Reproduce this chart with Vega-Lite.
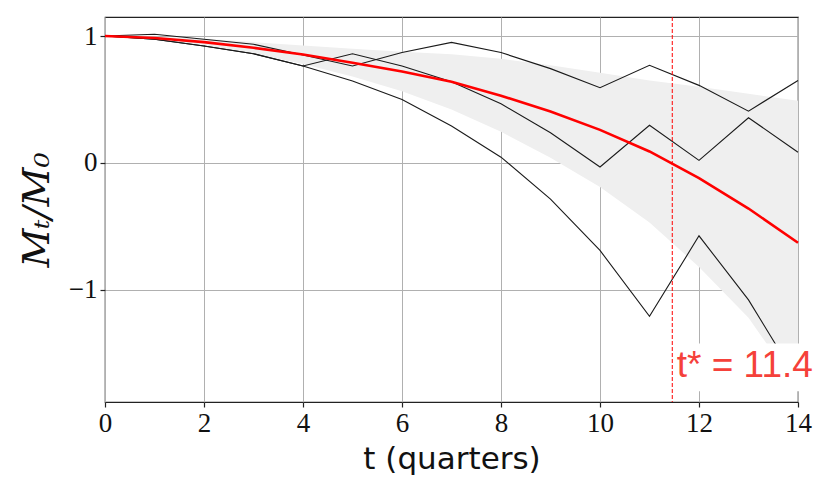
{
  "$schema": "https://vega.github.io/schema/vega-lite/v6.json",
  "width": 693,
  "height": 385,
  "autosize": {"type": "none"},
  "padding": {"left": 105, "top": 17, "right": 32, "bottom": 96},
  "background": "white",
  "config": {
    "view": {"stroke": "#222222", "strokeWidth": 1.2},
    "axis": {
      "grid": true,
      "gridColor": "#b0b0b0",
      "gridWidth": 1,
      "domain": false,
      "tickColor": "#222222",
      "tickSize": 5,
      "tickWidth": 1.2,
      "labelFont": "Liberation Serif",
      "labelFontSize": 27,
      "labelColor": "#111111",
      "labelPadding": 3,
      "labelFlush": false,
      "labelOverlap": false,
      "titleColor": "#111111",
      "titleFontWeight": "normal"
    }
  },
  "datasets": {
    "paths": [
      {"t": 0, "v": 1.0, "path": "P"}, {"t": 1, "v": 1.014, "path": "P"}, {"t": 2, "v": 0.975, "path": "P"}, {"t": 3, "v": 0.935, "path": "P"}, {"t": 4, "v": 0.85, "path": "P"}, {"t": 5, "v": 0.764, "path": "P"}, {"t": 6, "v": 0.87, "path": "P"}, {"t": 7, "v": 0.95, "path": "P"}, {"t": 8, "v": 0.87, "path": "P"}, {"t": 9, "v": 0.743, "path": "P"}, {"t": 10, "v": 0.593, "path": "P"}, {"t": 11, "v": 0.769, "path": "P"}, {"t": 12, "v": 0.611, "path": "P"}, {"t": 13, "v": 0.408, "path": "P"}, {"t": 14, "v": 0.65, "path": "P"},
      {"t": 0, "v": 1.0, "path": "Q"}, {"t": 1, "v": 0.975, "path": "Q"}, {"t": 2, "v": 0.922, "path": "Q"}, {"t": 3, "v": 0.86, "path": "Q"}, {"t": 4, "v": 0.764, "path": "Q"}, {"t": 5, "v": 0.86, "path": "Q"}, {"t": 6, "v": 0.764, "path": "Q"}, {"t": 7, "v": 0.64, "path": "Q"}, {"t": 8, "v": 0.466, "path": "Q"}, {"t": 9, "v": 0.237, "path": "Q"}, {"t": 10, "v": -0.032, "path": "Q"}, {"t": 11, "v": 0.297, "path": "Q"}, {"t": 12, "v": 0.02, "path": "Q"}, {"t": 13, "v": 0.356, "path": "Q"}, {"t": 14, "v": 0.084, "path": "Q"},
      {"t": 0, "v": 1.0, "path": "R"}, {"t": 1, "v": 0.975, "path": "R"}, {"t": 2, "v": 0.922, "path": "R"}, {"t": 3, "v": 0.86, "path": "R"}, {"t": 4, "v": 0.764, "path": "R"}, {"t": 5, "v": 0.645, "path": "R"}, {"t": 6, "v": 0.5, "path": "R"}, {"t": 7, "v": 0.29, "path": "R"}, {"t": 8, "v": 0.045, "path": "R"}, {"t": 9, "v": -0.285, "path": "R"}, {"t": 10, "v": -0.69, "path": "R"}, {"t": 11, "v": -1.21, "path": "R"}, {"t": 12, "v": -0.575, "path": "R"}, {"t": 13, "v": -1.08, "path": "R"}, {"t": 14, "v": -1.72, "path": "R"}
    ],
    "stats": [
      {"t": 0, "mean": 1.0, "lo": 1.0, "hi": 1.0},
      {"t": 1, "mean": 0.985, "lo": 0.975, "hi": 0.995},
      {"t": 2, "mean": 0.952, "lo": 0.93, "hi": 0.978},
      {"t": 3, "mean": 0.907, "lo": 0.862, "hi": 0.952},
      {"t": 4, "mean": 0.855, "lo": 0.78, "hi": 0.926},
      {"t": 5, "mean": 0.79, "lo": 0.68, "hi": 0.9},
      {"t": 6, "mean": 0.72, "lo": 0.565, "hi": 0.876},
      {"t": 7, "mean": 0.64, "lo": 0.42, "hi": 0.857},
      {"t": 8, "mean": 0.53, "lo": 0.245, "hi": 0.82},
      {"t": 9, "mean": 0.405, "lo": 0.04, "hi": 0.77},
      {"t": 10, "mean": 0.26, "lo": -0.19, "hi": 0.71},
      {"t": 11, "mean": 0.09, "lo": -0.47, "hi": 0.65},
      {"t": 12, "mean": -0.12, "lo": -0.82, "hi": 0.6},
      {"t": 13, "mean": -0.36, "lo": -1.22, "hi": 0.545},
      {"t": 14, "mean": -0.63, "lo": -1.78, "hi": 0.49}
    ],
    "tstar": [{"t": 11.46}],
    "box": [{"x1": 11.52, "x2": 14.36, "y1": -1.423, "y2": -1.8}],
    "label": [{"t": 11.55, "v": -1.69, "text": "t* = 11.4"}]
  },
  "encoding": {
    "x": {
      "field": "t",
      "type": "quantitative",
      "scale": {"domain": [0, 14], "nice": false, "zero": false},
      "axis": {
        "values": [0, 2, 4, 6, 8, 10, 12, 14],
        "title": "t (quarters)",
        "titleFont": "DejaVu Sans",
        "titleFontSize": 31,
        "titlePadding": 8
      }
    },
    "y": {
      "type": "quantitative",
      "scale": {"domain": [-1.885, 1.15], "nice": false, "zero": false},
      "axis": {
        "values": [-1, 0, 1],
        "title": "Mₜ/M₀",
        "titleFont": "DejaVu Serif",
        "titleFontStyle": "italic",
        "titleFontSize": 38,
        "titlePadding": 12
      }
    }
  },
  "layer": [
    {
      "data": {"name": "stats"},
      "mark": {"type": "area", "color": "#efefef", "opacity": 1},
      "encoding": {
        "y": {"field": "lo", "type": "quantitative"},
        "y2": {"field": "hi"}
      }
    },
    {
      "data": {"values": [{"z": 0}]},
      "mark": {"type": "rule", "color": "#808080", "strokeWidth": 3},
      "encoding": {
        "x": {"value": 0},
        "x2": {"expr": "width"},
        "y": {"field": "z", "type": "quantitative"}
      }
    },
    {
      "data": {"name": "paths"},
      "mark": {"type": "line", "color": "#1a1a1a", "strokeWidth": 1.1},
      "encoding": {
        "y": {"field": "v", "type": "quantitative"},
        "detail": {"field": "path"}
      }
    },
    {
      "data": {"name": "stats"},
      "mark": {"type": "line", "color": "#ff0000", "strokeWidth": 2.6},
      "encoding": {
        "y": {"field": "mean", "type": "quantitative"}
      }
    },
    {
      "data": {"name": "box"},
      "mark": {"type": "rect", "color": "white", "opacity": 1},
      "encoding": {
        "x": {"field": "x1", "type": "quantitative"},
        "x2": {"field": "x2"},
        "y": {"field": "y1", "type": "quantitative"},
        "y2": {"field": "y2"}
      }
    },
    {
      "data": {"name": "tstar"},
      "mark": {"type": "rule", "color": "#ff0000", "strokeWidth": 1, "strokeDash": [4, 2]},
      "encoding": {}
    },
    {
      "data": {"name": "label"},
      "mark": {"type": "text", "align": "left", "baseline": "alphabetic", "font": "Liberation Sans", "fontSize": 37, "color": "#f5413a"},
      "encoding": {
        "y": {"field": "v", "type": "quantitative"},
        "text": {"field": "text"}
      }
    }
  ]
}
